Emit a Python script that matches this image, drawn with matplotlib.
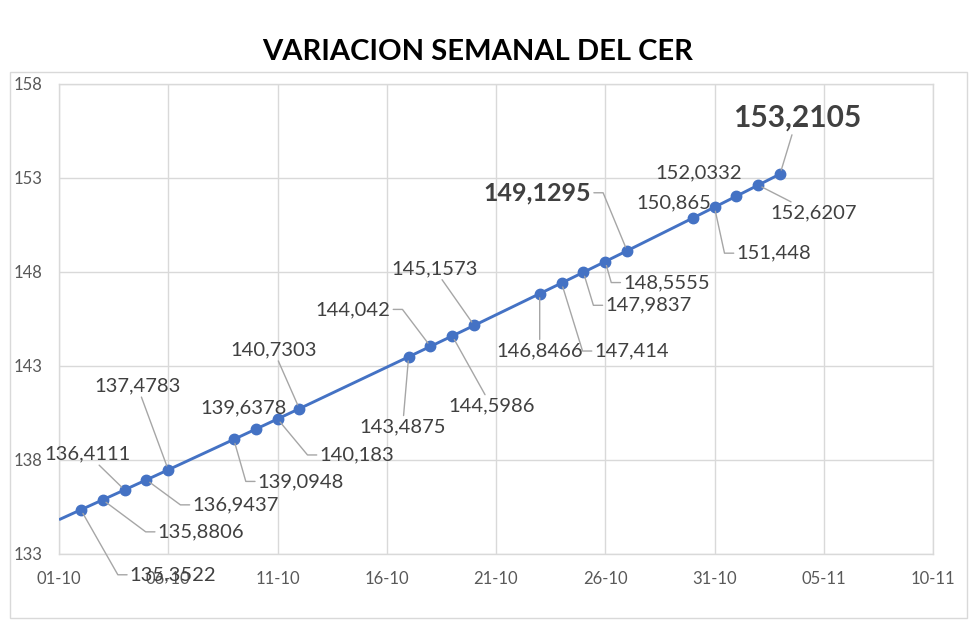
import math
import matplotlib
matplotlib.use("Agg")
import matplotlib.pyplot as plt
import matplotlib.dates as mdates
from matplotlib.patches import Rectangle
import pandas as pd

plt.rcParams["font.family"] = ["Lato", "DejaVu Sans"]

# ── DATA ─────────────────────────────────────────────────────────────
fechas = ["2023-10-02", "2023-10-03", "2023-10-04", "2023-10-05", "2023-10-06",
          "2023-10-09", "2023-10-10", "2023-10-11", "2023-10-12",
          "2023-10-17", "2023-10-18", "2023-10-19", "2023-10-20",
          "2023-10-23", "2023-10-24", "2023-10-25", "2023-10-26", "2023-10-27",
          "2023-10-30", "2023-10-31", "2023-11-01", "2023-11-02", "2023-11-03"]
cer = [135.3522, 135.8806, 136.4111, 136.9437, 137.4783,
       139.0948, 139.6378, 140.183, 140.7303,
       143.4875, 144.042, 144.5986, 145.1573,
       146.8466, 147.414, 147.9837, 148.5555, 149.1295,
       150.865, 151.448, 152.0332, 152.6207, 153.2105]
destacados = {"2023-10-27": 18, "2023-11-03": 21.5}   # bold labels -> font size

x_inicio, x_fin = "2023-10-01", "2023-11-10"
y_min, y_max = 133, 158

# label layout: (dx, dy) in pixels from the point, leader kind
# kinds: "none", "line" (straight), "hookL" (text to the right, hook on its left),
#        "hookR" (text to the left, hook on its right)
etiquetas = [
    (49, -65, "hookL"), (55, -32, "hookL"), (-37, 36, "line"), (46, -25, "hookL"),
    (-31, 84, "line"), (24, -42, "hookL"), (-12, 21, "none"), (42, -36, "hookL"),
    (-26, 59, "line"), (-6, -70, "line"), (-40, 37, "hookR"), (39, -70, "line"),
    (-40, 57, "line"), (0, -57, "line"), (33, -68, "hookL"), (22, -33, "hookL"),
    (18, -21, "hookL"), (-36, 58, "hookR"), (-19, 15, "none"), (22, -46, "hookL"),
    (-38, 23, "none"), (55, -28, "line"), (17, 56, "line"),
]

AZUL = "#4472C4"
GRIS_TXT = "#404040"
GRIS_EJE = "#595959"
GRIS_GRID = "#D9D9D9"
GRIS_LIDER = "#A6A6A6"


def main():
    W, H = 980, 627
    fig = plt.figure(figsize=(W / 100, H / 100), dpi=100)
    ax = fig.add_axes([59 / W, 1 - 554 / H, (933 - 59) / W, (554 - 84) / H])

    x = mdates.date2num(pd.to_datetime(fechas))
    x0 = mdates.date2num(pd.Timestamp(x_inicio))
    x1 = mdates.date2num(pd.Timestamp(x_fin))

    # Excel draws the series line starting at the left edge of the axis
    pendiente = (cer[1] - cer[0]) / (x[1] - x[0])
    y_borde = cer[0] - pendiente * (x[0] - x0)
    ax.plot([x0, x[0]], [y_borde, cer[0]], color=AZUL, lw=2.1, solid_capstyle="butt", zorder=3)
    ax.plot(x, cer, color=AZUL, lw=2.1, marker="o", markersize=7.5, zorder=3)

    ax.set_xlim(x0, x1)
    ax.set_ylim(y_min, y_max)
    ax.set_xticks(mdates.date2num(pd.date_range(x_inicio, x_fin, freq="5D")))
    ax.xaxis.set_major_formatter(mdates.DateFormatter("%d-%m"))
    ax.set_yticks(range(y_min, y_max + 1, 5))
    ax.grid(True, color=GRIS_GRID, lw=1)
    ax.set_axisbelow(True)
    for s in ax.spines.values():
        s.set_color(GRIS_GRID)
        s.set_linewidth(1)
    ax.tick_params(length=0, labelsize=12, labelcolor=GRIS_EJE)
    ax.tick_params(axis="y", pad=12)
    ax.tick_params(axis="x", pad=12.5)

    hook = 12
    for xi, yi, f, (dx, dy, tipo) in zip(x, cer, fechas, etiquetas):
        txt = str(yi).replace(".", ",")
        grande = f in destacados
        kw = dict(fontsize=destacados.get(f, 14.5), fontweight="bold" if grande else "normal",
                  color=GRIS_TXT, va="center", xycoords="data", textcoords="offset pixels",
                  zorder=4)
        if tipo == "none":
            ax.annotate(txt, (xi, yi), xytext=(dx, dy), ha="center", **kw)
        elif tipo == "line":
            ax.annotate(txt, (xi, yi), xytext=(dx, dy), ha="center",
                        arrowprops=dict(arrowstyle="-", color=GRIS_LIDER, lw=1,
                                        shrinkA=0, shrinkB=3), **kw)
        else:
            izq = tipo == "hookL"
            cx = dx - hook if izq else dx + hook
            angB = math.degrees(math.atan2(dy, cx))
            ax.annotate(txt, (xi, yi), xytext=(dx, dy), ha="left" if izq else "right",
                        arrowprops=dict(arrowstyle="-", color=GRIS_LIDER, lw=1,
                                        shrinkA=0, shrinkB=3,
                                        relpos=(0, 0.5) if izq else (1, 0.5),
                                        connectionstyle=f"angle,angleA=0,angleB={angB:.2f},rad=0"),
                        **kw)

    fig.text(478 / W, 1 - 52 / H, "VARIACION SEMANAL DEL CER", ha="center", va="center",
             fontsize=21, fontweight="bold", color="black")
    fig.add_artist(Rectangle((10 / W, 1 - 618 / H), (967 - 10) / W, (618 - 72) / H,
                             transform=fig.transFigure, fill=False, ec=GRIS_GRID, lw=1))

    fig.savefig("out.png", dpi=100, facecolor="white")
    plt.close(fig)


if __name__ == "__main__":
    main()
